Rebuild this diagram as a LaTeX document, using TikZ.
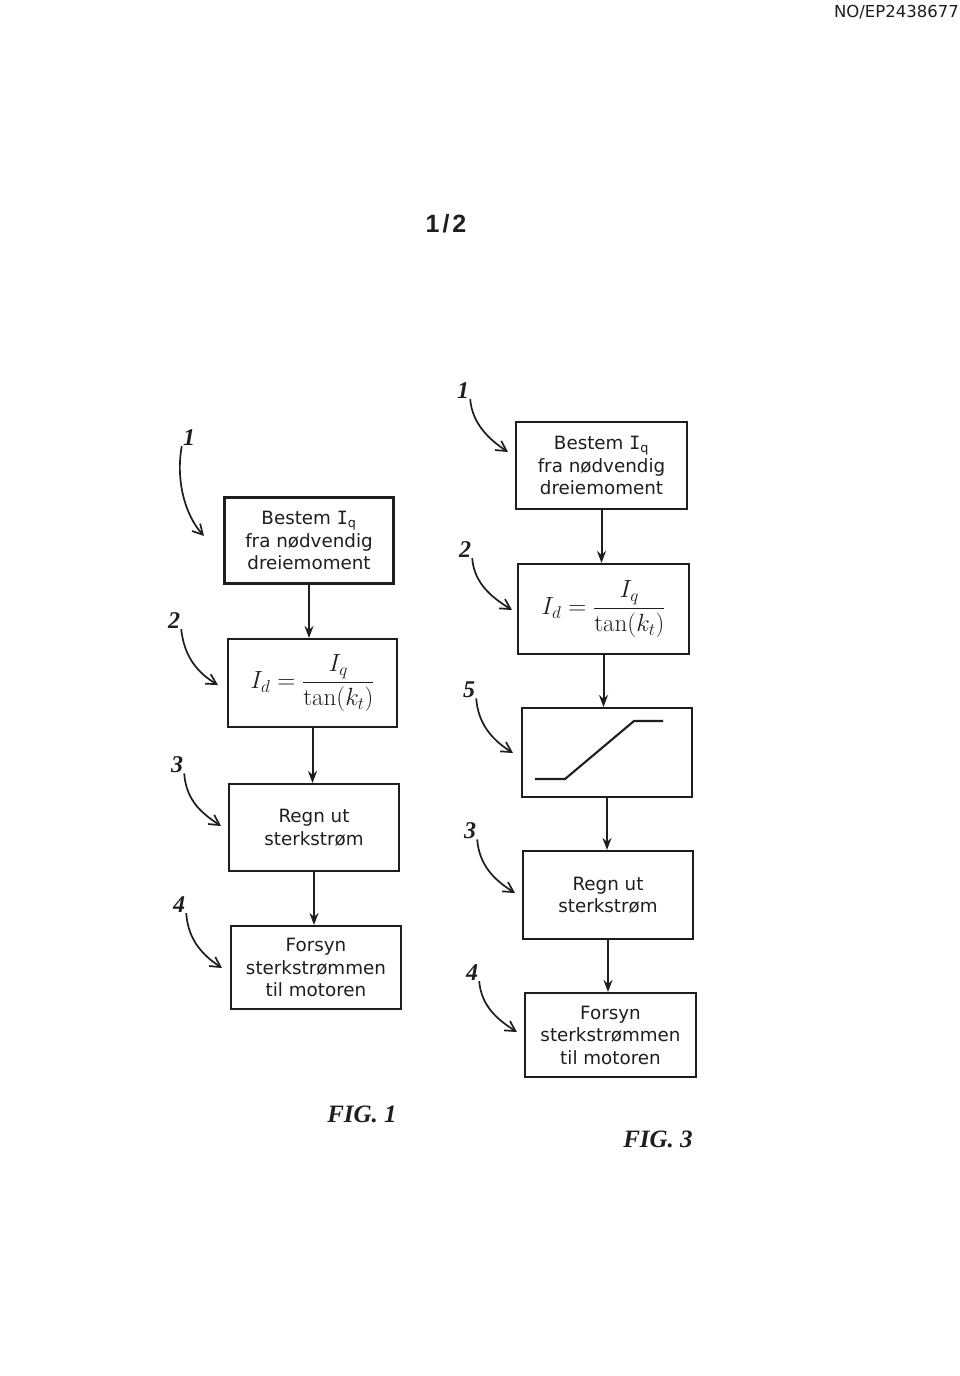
\documentclass[tikz,border=0pt]{standalone}
\usepackage{fontspec}
\newfontfamily\boxfont{DejaVu Sans}
\newfontfamily\boxI{DejaVu Sans Mono}
\newfontfamily\numfont{Liberation Serif}
\newfontfamily\headfont{Liberation Sans}
\usetikzlibrary{arrows.meta}
\definecolor{ink}{RGB}{30,30,30}
\newcommand{\Iq}{{\boxI I}\textsubscript{q}}
\begin{document}
\begin{tikzpicture}[x=1pt,y=-1pt,
  every node/.style={text=ink},
  stepbox/.style={draw=ink, line width=2.1pt, inner sep=0pt, align=center,
    font=\boxfont\fontsize{18.3}{22.5}\selectfont},
  mathbox/.style={stepbox, font=\fontsize{25}{29}\selectfont},
  flow/.style={draw=ink, line width=2pt, -{Stealth[length=12pt,width=9pt]}},
  lbl/.style={draw=ink, line width=1.7pt, -{Straight Barb[length=10pt,width=11pt,line width=1.7pt]}},
  num/.style={font=\numfont\bfseries\itshape\fontsize{24}{24}\selectfont, anchor=base, inner sep=1pt},
  figlbl/.style={font=\numfont\bfseries\itshape\fontsize{25}{25}\selectfont, anchor=base, inner sep=0pt}]
\useasboundingbox[fill=white] (0,0) rectangle (960,1376);

% header
\node[font=\boxfont\fontsize{16.5}{16.5}\selectfont, anchor=base east, inner sep=0pt] (docno) at (959,17) {NO/EP2438677};
\node[font=\headfont\bfseries\fontsize{25}{25}\selectfont, anchor=base, inner sep=0pt] (page) at (446,232) {1\hspace{3pt}/\hspace{3pt}2};

% ---------- FIG. 1 ----------
\node[stepbox, minimum width=169pt, minimum height=86pt] (a1) at (309,540.5) {Bestem \Iq\\fra nødvendig\\dreiemoment};
\node[mathbox, minimum width=169pt, minimum height=88pt] (a2) at (312.5,683) {$\displaystyle I_d=\frac{I_q}{\tan(k_t)}$};
\node[stepbox, minimum width=170pt, minimum height=87pt] (a3) at (314,827.5) {Regn ut\\sterkstrøm};
\node[stepbox, minimum width=170pt, minimum height=83pt] (a4) at (316,967.5) {Forsyn\\sterkstrømmen\\til motoren};

\draw[flow] (a1.south) -- (a1.south |- a2.north);
\draw[flow] (a2.south) -- (a2.south |- a3.north);
\draw[flow] (a3.south) -- (a3.south |- a4.north);

\node[num] (n1) at (189,445) {1};
\node[num] (n2) at (174,628) {2};
\node[num] (n3) at (177,772) {3};
\node[num] (n4) at (179,912) {4};
\coordinate (t1) at (204,536);
\coordinate (t2) at (218,685);
\coordinate (t3) at (221,826);
\coordinate (t4) at (222,968);
\draw[lbl] (n1.south west) .. controls +(-6,32) and +(-20,-22) .. (t1);
\draw[lbl] (n2.south east) .. controls +(3,28) and +(-20,-12) .. (t2);
\draw[lbl] (n3.south east) .. controls +(2,28) and +(-18,-12) .. (t3);
\draw[lbl] (n4.south east) .. controls +(2,28) and +(-18,-12) .. (t4);

\node[figlbl] (fig1) at (362,1122) {FIG. 1};

% ---------- FIG. 3 ----------
\node[stepbox, minimum width=171pt, minimum height=87pt] (b1) at (601.5,465.5) {Bestem \Iq\\fra nødvendig\\dreiemoment};
\node[mathbox, minimum width=171pt, minimum height=90pt] (b2) at (603.5,609) {$\displaystyle I_d=\frac{I_q}{\tan(k_t)}$};
\node[stepbox, minimum width=170pt, minimum height=89pt] (b5) at (607,752.5) {};
\node[stepbox, minimum width=170pt, minimum height=88pt] (b3) at (608,895) {Regn ut\\sterkstrøm};
\node[stepbox, minimum width=171pt, minimum height=84pt] (b4) at (610.5,1035) {Forsyn\\sterkstrømmen\\til motoren};

\draw[draw=ink, line width=2.1pt] (535,779) -- (565,779) -- (634,721) -- (663,721);

\draw[flow] (b1.south) -- (b1.south |- b2.north);
\draw[flow] (b2.south) -- (b2.south |- b5.north);
\draw[flow] (b5.south) -- (b5.south |- b3.north);
\draw[flow] (b3.south) -- (b3.south |- b4.north);

\node[num] (m1) at (463,398) {1};
\node[num] (m2) at (465,557) {2};
\node[num] (m5) at (469,697) {5};
\node[num] (m3) at (470,838) {3};
\node[num] (m4) at (472,980) {4};
\coordinate (u1) at (508,452);
\coordinate (u2) at (512,610);
\coordinate (u5) at (513,753);
\coordinate (u3) at (515,893);
\coordinate (u4) at (517,1032);
\draw[lbl] (m1.south east) .. controls +(2,25) and +(-18,-12) .. (u1);
\draw[lbl] (m2.south east) .. controls +(2,26) and +(-19,-12) .. (u2);
\draw[lbl] (m5.south east) .. controls +(2,27) and +(-19,-12) .. (u5);
\draw[lbl] (m3.south east) .. controls +(2,27) and +(-19,-12) .. (u3);
\draw[lbl] (m4.south east) .. controls +(2,25) and +(-19,-12) .. (u4);

\node[figlbl] (fig3) at (658,1147) {FIG. 3};
\end{tikzpicture}
\end{document}
